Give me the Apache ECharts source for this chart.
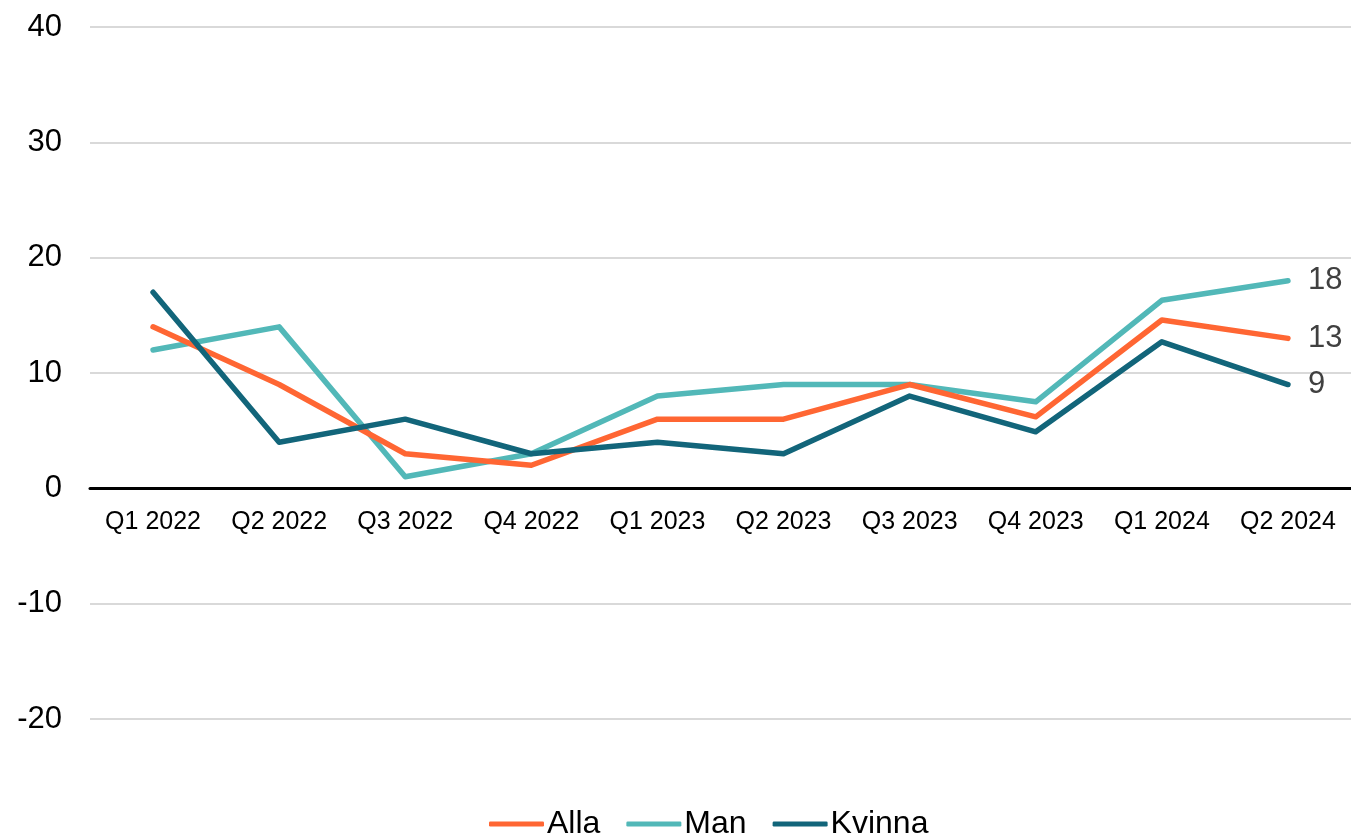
<!DOCTYPE html>
<html>
<head>
<meta charset="utf-8">
<script src="https://cdn.jsdelivr.net/npm/echarts@6/dist/echarts.min.js"></script>
<style>
    html, body { margin: 0; padding: 0; background: #fff; }
    #chart { width: 1351px; height: 834px; }
</style>
</head>
<body>
<div id="chart"></div>
<script>
// 数据
const categories = ['Q1 2022', 'Q2 2022', 'Q3 2022', 'Q4 2022', 'Q1 2023', 'Q2 2023', 'Q3 2023', 'Q4 2023', 'Q1 2024', 'Q2 2024'];
const alla = [14, 9, 3, 2, 6, 6, 9, 6.2, 14.6, 13];
const man = [12, 14, 1, 3, 8, 9, 9, 7.5, 16.3, 18];
const kvinna = [17, 4, 6, 3, 4, 3, 8, 4.9, 12.7, 9];

const chart = echarts.init(document.getElementById('chart'));

function lineSeries(name, data, color, z) {
    return {
        name: name,
        type: 'line',
        data: data,
        symbol: 'none',
        lineStyle: { width: 5.5, color: color, cap: 'round', join: 'round' },
        itemStyle: { color: color },
        endLabel: {
            show: true,
            formatter: p => Math.round(p.value),
            color: '#404040',
            fontSize: 31,
            fontFamily: 'Liberation Sans, Arial, sans-serif',
            distance: 20
        },
        z: z
    };
}

const option = {
    backgroundColor: '#fff',
    animation: false,
    textStyle: { fontFamily: 'Liberation Sans, Arial, sans-serif' },
    grid: { left: 90, right: -2, top: 27, bottom: 115 },
    legend: {
        top: 803,
        left: 484,
        icon: 'roundRect',
        itemWidth: 55,
        itemHeight: 5,
        itemGap: 26,
        textStyle: { fontSize: 32, lineHeight: 32, color: '#000', padding: [0, 0, 0, -2] },
        data: ['Alla', 'Man', 'Kvinna']
    },
    xAxis: {
        type: 'category',
        data: categories,
        boundaryGap: true,
        axisLine: { onZero: true, lineStyle: { color: '#000', width: 3 } },
        axisTick: { show: false },
        // 标签放在零线下方
        axisLabel: { color: '#000', fontSize: 25, margin: -209 }
    },
    yAxis: {
        type: 'value',
        min: -20,
        max: 40,
        interval: 10,
        axisLine: { show: false },
        axisTick: { show: false },
        axisLabel: { color: '#000', fontSize: 31, margin: 28 },
        splitLine: { lineStyle: { color: '#d9d9d9', width: 2 } }
    },
    series: [
        lineSeries('Alla', alla, '#FF6633', 3),
        lineSeries('Man', man, '#52B8B8', 2),
        lineSeries('Kvinna', kvinna, '#12657A', 4)
    ]
};

chart.setOption(option);
</script>
</body>
</html>
